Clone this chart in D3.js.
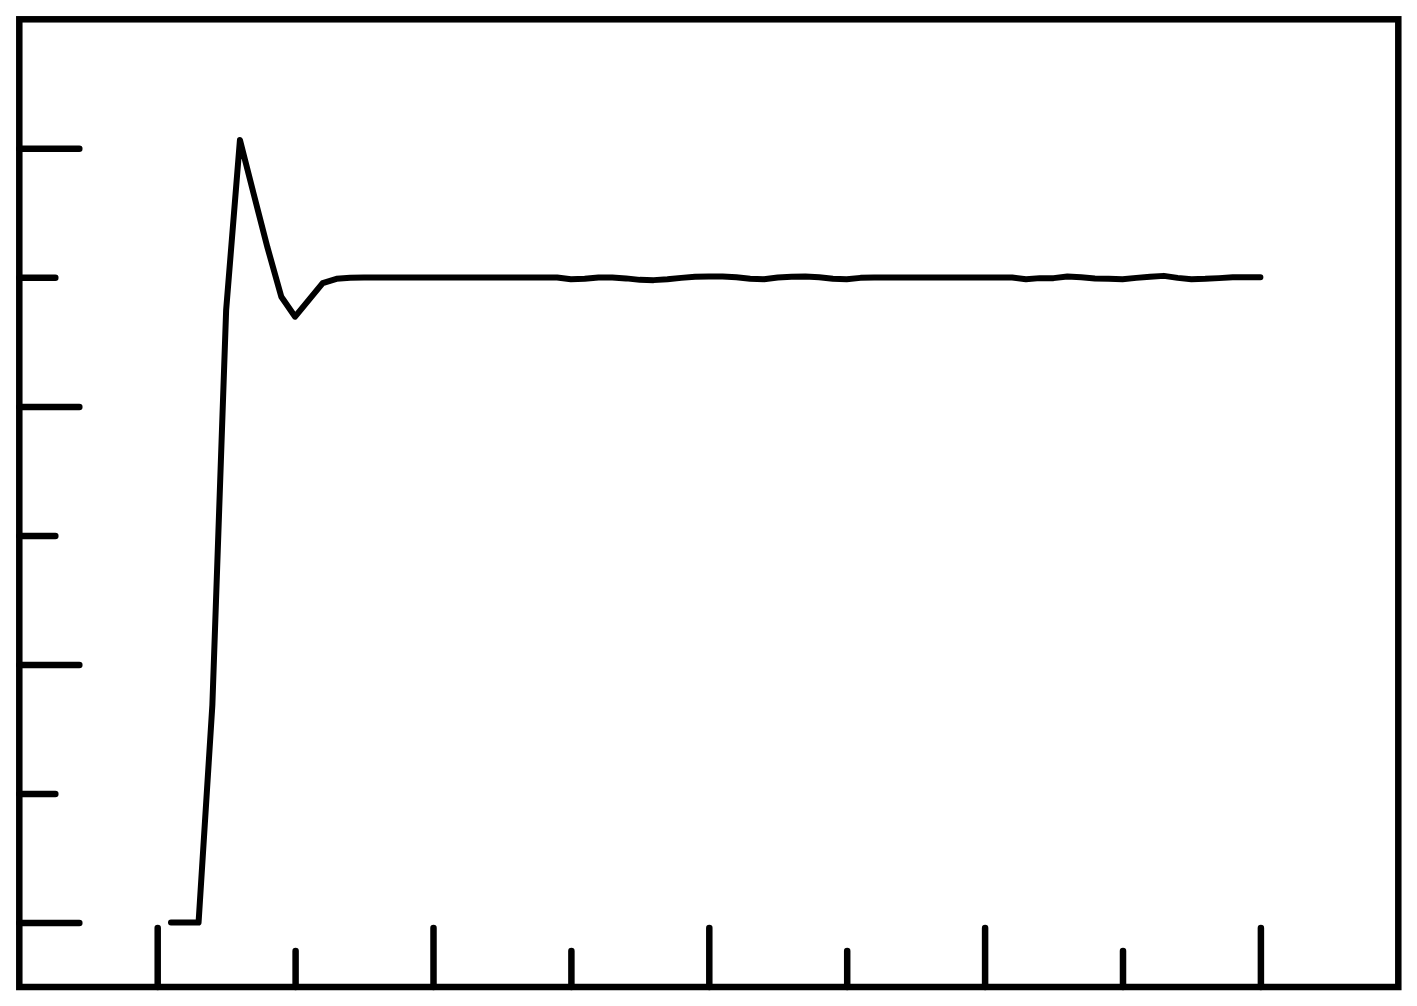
<!DOCTYPE html>
<html>
<head>
<meta charset="utf-8">
<script src="https://cdn.jsdelivr.net/npm/d3@7"></script>
<style>
  html, body { margin: 0; padding: 0; background: #fff; }
  svg { display: block; }
</style>
</head>
<body>
<svg id="chart" width="1417" height="1006"></svg>
<script>
// ---- data ----
const samples = d3.range(1, 81); // sample index 1..80
const values = [
  0, 0, 0, 0.337, 0.9495, 1.213, 1.129, 1.046, 0.970, 0.939,
  0.965, 0.991, 0.9977, 0.9994, 0.9997, 0.9997, 0.9997, 0.9997, 0.9997, 0.9997,
  0.9997, 0.9997, 0.9997, 0.9997, 0.9997, 0.9997, 0.9997, 0.9997, 0.9997, 0.9972,
  0.9977, 0.9997, 0.9997, 0.9984, 0.9961, 0.9957, 0.9969, 0.9992, 1.0008, 1.0012,
  1.0012, 1.0000, 0.9977, 0.9972, 0.9997, 1.0008, 1.0015, 1.0000, 0.9977, 0.9972,
  0.9992, 0.9997, 0.9997, 0.9997, 0.9997, 0.9997, 0.9997, 0.9997, 0.9997, 0.9997,
  0.9997, 0.9997, 0.9972, 0.9988, 0.9988, 1.0012, 1.0000, 0.9984, 0.9977, 0.9972,
  0.9992, 1.0008, 1.0023, 0.9992, 0.9972, 0.9977, 0.9988, 1.0000, 1.0003, 1.0003
];
const xMajorTicks = [0, 20, 40, 60, 80];
const xMinorTicks = [10, 30, 50, 70];
const yMajorTicks = [0, 0.4, 0.8, 1.2];
const yMinorTicks = [0.2, 0.6, 1.0];

// ---- layout ----
(function () {
  const svg = d3.select("#chart");
  const mLeft = 19.3, mRight = 1398.3, mTop = 19.3, mBottom = 987;
  const x = d3.scaleLinear().domain([-10, 90]).range([mLeft, mRight]);
  const y = d3.scaleLinear().domain([-0.1, 1.4]).range([mBottom, mTop]);

  const SW = 6.5;

  function styleAxis(g) {
    g.select(".domain").remove();
    g.selectAll(".tick text").remove();
    g.selectAll(".tick line")
      .attr("stroke", "#000")
      .attr("stroke-width", SW)
      .attr("stroke-linecap", "round");
  }

  // y ticks (inward from left frame)
  svg.append("g").attr("transform", `translate(${mLeft},0)`)
    .call(d3.axisRight(y).tickValues(yMajorTicks).tickSize(60).tickFormat(""))
    .call(styleAxis);
  svg.append("g").attr("transform", `translate(${mLeft},0)`)
    .call(d3.axisRight(y).tickValues(yMinorTicks).tickSize(36).tickFormat(""))
    .call(styleAxis);

  // x ticks (inward from bottom frame)
  svg.append("g").attr("transform", `translate(0,${mBottom})`)
    .call(d3.axisTop(x).tickValues(xMajorTicks).tickSize(59).tickFormat(""))
    .call(styleAxis);
  svg.append("g").attr("transform", `translate(0,${mBottom})`)
    .call(d3.axisTop(x).tickValues(xMinorTicks).tickSize(36).tickFormat(""))
    .call(styleAxis);

  // frame
  svg.append("rect")
    .attr("x", mLeft).attr("y", mTop)
    .attr("width", mRight - mLeft).attr("height", mBottom - mTop)
    .attr("fill", "none")
    .attr("stroke", "#000")
    .attr("stroke-width", SW);

  // line
  const line = d3.line()
    .x((d, i) => x(samples[i]))
    .y(d => y(d));

  svg.append("path")
    .datum(values)
    .attr("d", line)
    .attr("fill", "none")
    .attr("stroke", "#000")
    .attr("stroke-width", 6)
    .attr("stroke-linecap", "round")
    .attr("stroke-linejoin", "round");
})();
</script>
</body>
</html>
